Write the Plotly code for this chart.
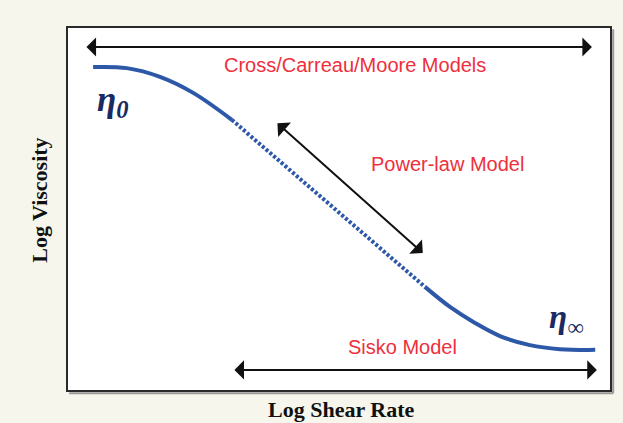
import plotly.graph_objects as go

# Conceptual flow curve (log shear rate vs log viscosity), arbitrary units 0-10
curve_left_x = [0.48, 1.10, 1.71, 2.32, 3.03]
curve_left_y = [8.90, 8.87, 8.63, 8.19, 7.45]
curve_mid_x = [3.03, 4.83, 6.58]
curve_mid_y = [7.45, 5.14, 2.86]
curve_right_x = [6.58, 7.04, 7.50, 7.96, 8.51, 9.06, 9.71]
curve_right_y = [2.86, 2.31, 1.87, 1.51, 1.26, 1.15, 1.13]

# Range arrows: (x_start, y_start, x_end, y_end)
arrow_cross = (0.33, 9.45, 9.65, 9.45)
arrow_power = (3.84, 7.39, 6.54, 3.79)
arrow_sisko = (3.05, 0.58, 9.74, 0.58)

labels = ["Cross/Carreau/Moore Models", "Power-law Model", "Sisko Model"]
label_x = [5.30, 6.99, 6.16]
label_y = [8.96, 6.25, 1.22]

BLUE = "#2d58a8"
RED = "#ee2f3c"
NAVY = "#1b2a62"

fig = go.Figure()
fig.add_trace(go.Scatter(x=curve_left_x, y=curve_left_y, mode="lines",
                         line=dict(color=BLUE, width=4, shape="spline"), hoverinfo="skip"))
fig.add_trace(go.Scatter(x=curve_mid_x, y=curve_mid_y, mode="lines",
                         line=dict(color=BLUE, width=4, dash="3px,2px"), hoverinfo="skip"))
fig.add_trace(go.Scatter(x=curve_right_x, y=curve_right_y, mode="lines",
                         line=dict(color=BLUE, width=4, shape="spline"), hoverinfo="skip"))

annotations = []
for (x0, y0, x1, y1) in [arrow_cross, arrow_power, arrow_sisko]:
    annotations.append(dict(
        x=x1, y=y1, ax=x0, ay=y0, xref="x", yref="y", axref="x", ayref="y",
        text="", showarrow=True, arrowhead=1, startarrowhead=1, arrowside="end+start",
        arrowsize=1.6, startarrowsize=1.6, arrowwidth=2, arrowcolor="#111111",
        standoff=0, startstandoff=0))

for t, x, y in zip(labels, label_x, label_y):
    annotations.append(dict(x=x, y=y, xref="x", yref="y", text=t, showarrow=False,
                            xanchor="center", yanchor="middle",
                            font=dict(family="Liberation Sans, Arial", size=20, color=RED)))

annotations.append(dict(x=0.83, y=7.94, xref="x", yref="y", showarrow=False,
                        xanchor="center", yanchor="middle",
                        text="<b><i>η<sub>0</sub></i></b>",
                        font=dict(family="Liberation Serif, Times New Roman", size=35, color=NAVY)))
annotations.append(dict(x=9.19, y=1.97, xref="x", yref="y", showarrow=False,
                        xanchor="center", yanchor="middle",
                        text="<b><i>η<sub>∞</sub></i></b>",
                        font=dict(family="Liberation Serif, Times New Roman", size=33, color=NAVY)))

annotations.append(dict(x=-0.05, y=0.525, xref="paper", yref="paper", showarrow=False,
                        xanchor="center", yanchor="middle",
                        text="<b>Log Viscosity</b>", textangle=-90,
                        font=dict(family="Liberation Serif, Times New Roman", size=22, color="#111111")))
annotations.append(dict(x=0.503, y=-0.052, xref="paper", yref="paper", showarrow=False,
                        xanchor="center", yanchor="middle",
                        text="<b>Log Shear Rate</b>",
                        font=dict(family="Liberation Serif, Times New Roman", size=22, color="#111111")))

shapes = [
    dict(type="line", xref="paper", yref="paper", x0=0.004, x1=1.004, y0=-0.006, y1=-0.006,
         line=dict(color="#9a9a9a", width=2)),
    dict(type="line", xref="paper", yref="paper", x0=1.004, x1=1.004, y0=-0.006, y1=0.994,
         line=dict(color="#9a9a9a", width=2)),
    dict(type="rect", xref="paper", yref="paper", x0=0, x1=1, y0=0, y1=1,
         line=dict(color="#2a2a2a", width=2)),
]

fig.update_layout(
    width=623, height=423,
    margin=dict(l=67, r=12, t=27, b=32),
    paper_bgcolor="#f6f6ec", plot_bgcolor="#ffffff",
    showlegend=False,
    xaxis=dict(range=[0, 10], showgrid=False, zeroline=False, showticklabels=False, ticks=""),
    yaxis=dict(range=[0, 10], showgrid=False, zeroline=False, showticklabels=False, ticks=""),
    annotations=annotations, shapes=shapes,
)

fig.write_html("out.html", config={"displayModeBar": False})
